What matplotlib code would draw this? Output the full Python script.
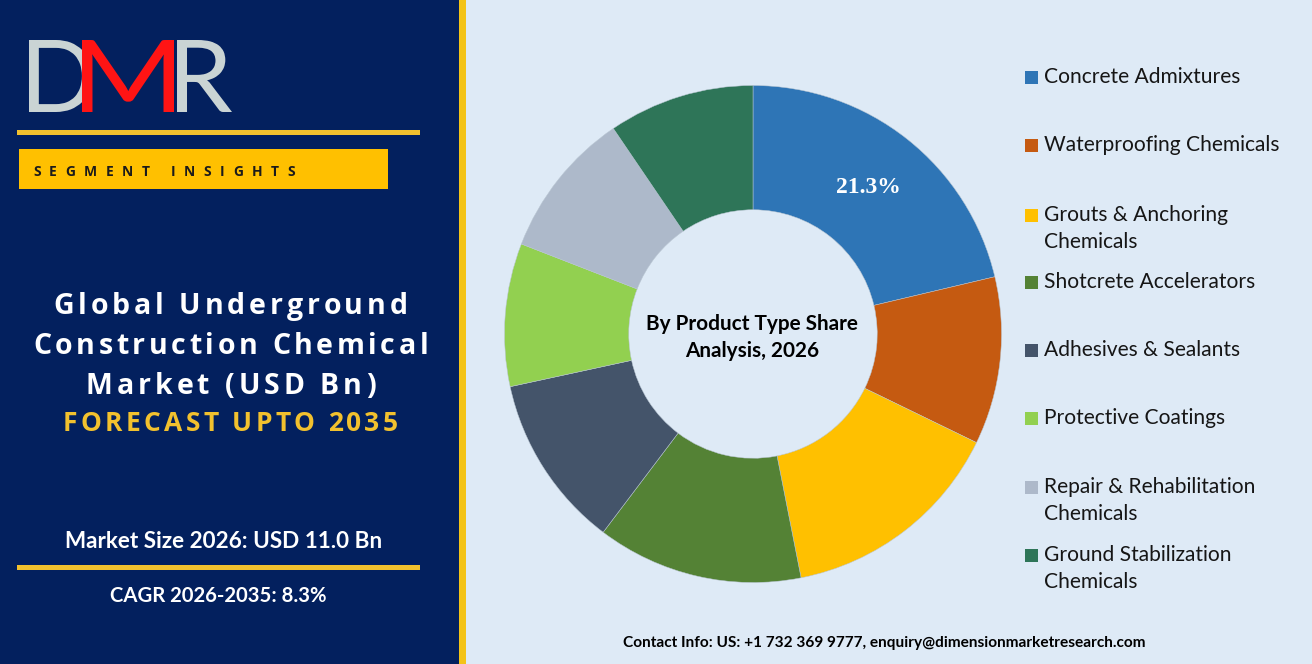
import matplotlib
matplotlib.use("Agg")
import numpy as np
import matplotlib.pyplot as plt
import matplotlib.transforms as mtrans
from matplotlib.patches import Rectangle, PathPatch
from matplotlib.textpath import TextPath
from matplotlib.font_manager import FontProperties

# data
categories = ["Concrete Admixtures", "Waterproofing Chemicals", "Grouts & Anchoring\nChemicals",
              "Shotcrete Accelerators", "Adhesives & Sealants", "Protective Coatings",
              "Repair & Rehabilitation\nChemicals", "Ground Stabilization\nChemicals"]
shares = [21.3, 10.9, 14.7, 13.4, 11.3, 9.3, 9.6, 9.5]
colors = ["#2E75B6", "#C55A11", "#FFC000", "#548235", "#44546A", "#92D050", "#ADB9CA", "#2E7558"]
shown_label = "21.3%"

title_lines = ["Global Underground", "Construction Chemical", "Market (USD Bn)"]
forecast = "FORECAST UPTO 2035"
market_size = "Market Size 2026: USD 11.0 Bn"
cagr = "CAGR 2026-2035: 8.3%"
center_lines = ["By Product Type Share", "Analysis, 2026"]
contact = "Contact Info: US: +1 732 369 9777, enquiry@dimensionmarketresearch.com"

W, H = 1312, 664
NAVY = "#03205E"
GOLD = "#F2C12E"
BG = "#DEEAF6"

fig = plt.figure(figsize=(W / 100, H / 100), dpi=100, facecolor=BG)
bg = fig.add_axes([0, 0, 1, 1])
bg.set_xlim(0, W)
bg.set_ylim(H, 0)
bg.axis("off")
renderer = fig.canvas.get_renderer()

# left panel
bg.add_patch(Rectangle((0, 0), 459, H, color=NAVY, lw=0))
bg.add_patch(Rectangle((459, 0), 7, H, color="#F4C317", lw=0))
bg.add_patch(Rectangle((17, 130), 403, 5, color=GOLD, lw=0))
bg.add_patch(Rectangle((19, 149), 369, 40, color="#FFC000", lw=0))
bg.add_patch(Rectangle((17, 565), 403, 5, color=GOLD, lw=0))


def width_of(s, size, **kw):
    t = bg.text(0, 0, s, fontsize=size, **kw)
    w = t.get_window_extent(renderer).width
    t.remove()
    return w


def fit_text(x, y, s, width, size=12, ha="left", **kw):
    size = size * width / width_of(s, size, **kw)
    bg.text(x, y, s, fontsize=size, ha=ha, va="baseline", **kw)
    return size


def tracked_text(x, y, s, width, size, ha="left", **kw):
    bar = width_of("|", size, **kw)
    offs = [0.0] + [width_of(s[:i] + "|", size, **kw) - bar for i in range(1, len(s))]
    track = (width - width_of(s, size, **kw)) / (len(s) - 1)
    x0 = x - width / 2 if ha == "center" else x
    for i, ch in enumerate(s):
        if ch != " ":
            bg.text(x0 + offs[i] + i * track, y, ch, fontsize=size, ha="left", va="baseline", **kw)


def logo_letter(ch, x0, x1, y0, y1, color):
    tp = TextPath((0, 0), ch, size=100, prop=FontProperties(family="Lato", weight="normal"))
    ext = tp.get_extents()
    tr = (mtrans.Affine2D().translate(-ext.x0, -ext.y0)
          .scale((x1 - x0) / ext.width, -(y1 - y0) / ext.height).translate(x0, y1))
    bg.add_patch(PathPatch(tr.transform_path(tp), color=color, lw=0))


logo_letter("D", 29, 92, 40, 112, "#CAD4D4")
logo_letter("R", 177, 232, 40, 112, "#CAD4D4")
logo_letter("M", 82, 174, 40, 112, "#FF1414")

tracked_text(33, 176, "SEGMENT INSIGHTS", 262, 10, family="Open Sans", weight="bold", color="#1B1B1B")

title_font = dict(family="Open Sans", weight="bold", color="white")
tracked_text(230.5, 314, title_lines[0], 354, 20.5, ha="center", **title_font)
tracked_text(230.5, 354, title_lines[1], 395, 20.5, ha="center", **title_font)
tracked_text(230.5, 394, title_lines[2], 290, 20.5, ha="center", **title_font)
tracked_text(230.5, 431, forecast, 335, 19, ha="center", family="Open Sans", weight="bold", color=GOLD)

fit_text(223.5, 548, market_size, 317, ha="center", family="Lato", weight="bold", color="white")
fit_text(218, 602, cagr, 216, ha="center", family="Lato", weight="bold", color="white")
fit_text(884.5, 647, contact, 521, ha="center", family="Lato", weight="bold", color="black")

# donut
cx, cy, R = 753, 334, 248.5
ax = fig.add_axes([(cx - R) / W, (H - cy - R) / H, 2 * R / W, 2 * R / H])
wedges, _ = ax.pie(shares, colors=colors, startangle=90, counterclock=False, radius=1,
                   wedgeprops=dict(width=0.5, edgecolor="#B9C6D2", linewidth=0.35))
ax.set_xlim(-1, 1)
ax.set_ylim(-1, 1)
ax.axis("off")
w0 = wedges[0]
mid = np.deg2rad((w0.theta1 + w0.theta2) / 2)
ax.text(0.75 * np.cos(mid), 0.75 * np.sin(mid), shown_label, ha="center", va="center",
        fontsize=17, family="Liberation Serif", weight="bold", color="white")

csize = fit_text(752, 330, center_lines[0], 212, ha="center", family="Lato", weight="bold", color="black")
bg.text(752, 357, center_lines[1], fontsize=csize, ha="center", va="baseline",
        family="Lato", weight="bold", color="black")

# legend
lsize = 12 * 235 / width_of("Waterproofing Chemicals", 12, family="Lato")
legend_base = [83, 151, 221, 288, 356, 424, 493, 561]
for name, c, yb in zip(categories, colors, legend_base):
    bg.add_patch(Rectangle((1025, yb - 12.5), 13, 13, color=c, lw=0))
    for k, line in enumerate(name.split("\n")):
        bg.text(1044, yb + k * 27.5, line, fontsize=lsize, ha="left", va="baseline",
                family="Lato", color="#161616")

fig.savefig("out.png", dpi=100, facecolor=BG)
